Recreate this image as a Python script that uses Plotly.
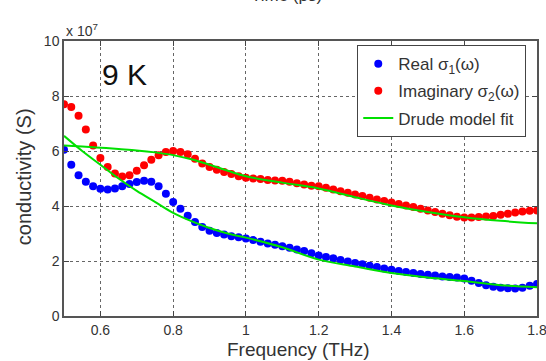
import numpy as np
import plotly.graph_objects as go

# Frequency grid of measured points (THz)
freq = [round(0.50 + 0.02 * i, 2) for i in range(66)]

# Real part sigma_1 (x 1e7 S)
sigma1 = [6.05, 5.50, 5.12, 4.88, 4.72, 4.63, 4.60, 4.64, 4.72, 4.80,
          4.87, 4.92, 4.88, 4.72, 4.45, 4.15, 3.90, 3.65, 3.42, 3.24,
          3.10, 3.02, 2.96, 2.90, 2.86, 2.82, 2.76, 2.70, 2.64, 2.59,
          2.54, 2.48, 2.42, 2.36, 2.28, 2.20, 2.15, 2.10, 2.04, 1.98,
          1.93, 1.88, 1.83, 1.78, 1.73, 1.68, 1.64, 1.60, 1.56, 1.53,
          1.50, 1.47, 1.44, 1.42, 1.40, 1.36, 1.28, 1.20, 1.12, 1.06,
          1.03, 1.01, 1.00, 1.03, 1.10, 1.16]

# Imaginary part sigma_2 (x 1e7 S)
sigma2 = [7.70, 7.60, 7.28, 6.78, 6.20, 5.75, 5.42, 5.18, 5.07, 5.12,
          5.28, 5.48, 5.68, 5.85, 5.96, 6.00, 5.96, 5.88, 5.72, 5.55,
          5.42, 5.32, 5.24, 5.16, 5.08, 5.03, 5.00, 4.98, 4.95, 4.93,
          4.92, 4.88, 4.83, 4.78, 4.74, 4.72, 4.66, 4.60, 4.54, 4.48,
          4.42, 4.36, 4.30, 4.24, 4.18, 4.13, 4.07, 4.02, 3.96, 3.90,
          3.84, 3.78, 3.72, 3.66, 3.61, 3.58, 3.58, 3.60, 3.62, 3.64,
          3.68, 3.72, 3.76, 3.80, 3.83, 3.84]

# Drude model fits
fit_freq = [0.50, 0.55, 0.60, 0.65, 0.70, 0.75, 0.80, 0.85, 0.90, 0.95,
            1.00, 1.10, 1.20, 1.30, 1.40, 1.50, 1.60, 1.70, 1.80]
fit1 = [6.55, 6.00, 5.50, 5.00, 4.55, 4.15, 3.75, 3.45, 3.20, 3.00,
        2.85, 2.50, 2.05, 1.80, 1.56, 1.40, 1.27, 1.12, 1.05]
fit2 = [6.20, 6.16, 6.12, 6.07, 6.02, 5.95, 5.85, 5.70, 5.50, 5.28,
        5.08, 4.85, 4.64, 4.32, 4.02, 3.78, 3.59, 3.46, 3.37]

xticks = [0.6, 0.8, 1.0, 1.2, 1.4, 1.6, 1.8]
xticklabels = ["0.6", "0.8", "1", "1.2", "1.4", "1.6", "1.8"]
yticks = [0, 2, 4, 6, 8, 10]

FONT = "Liberation Sans, Arial"

fig = go.Figure()
fig.add_trace(go.Scatter(x=freq, y=sigma1, mode="markers", name="Real σ<sub>1</sub>(ω)",
                         legendgroup="a", marker=dict(color="#0000ff", size=8)))
fig.add_trace(go.Scatter(x=freq, y=sigma2, mode="markers", name="Imaginary σ<sub>2</sub>(ω)",
                         legendgroup="b", marker=dict(color="#ff0000", size=8)))
fig.add_trace(go.Scatter(x=fit_freq, y=fit1, mode="lines", name="Drude model fit",
                         legendgroup="c", line=dict(color="#00e000", width=2, shape="spline")))
fig.add_trace(go.Scatter(x=fit_freq, y=fit2, mode="lines", name="Drude model fit", showlegend=False,
                         legendgroup="c", line=dict(color="#00e000", width=2, shape="spline")))

axis_common = dict(showline=True, linecolor="#555555", linewidth=1.5, mirror="ticks",
                   ticks="inside", ticklen=5, tickcolor="#444444",
                   showgrid=True, gridcolor="#666666", griddash="dot", gridwidth=1,
                   zeroline=False, automargin=False, ticklabeloverflow="allow",
                   tickfont=dict(family=FONT, size=14, color="#333333"))

fig.update_layout(
    width=546, height=361,
    margin=dict(l=64, r=9, t=41, b=45),
    paper_bgcolor="white", plot_bgcolor="white",
    font=dict(family=FONT, color="#333333"),
    xaxis=dict(range=[0.5, 1.8], tickvals=xticks, ticktext=xticklabels, **axis_common),
    yaxis=dict(range=[0, 10], tickvals=yticks, **axis_common),
    legend=dict(x=0.62, y=0.985, xanchor="left", yanchor="top",
                bgcolor="white", bordercolor="#444444", borderwidth=1,
                font=dict(family=FONT, size=17, color="#333333"), tracegroupgap=2,
                itemwidth=30),
    showlegend=True,
)

# axis titles
fig.add_annotation(x=0.496, y=0, xref="paper", yref="paper", text="Frequency (THz)",
                   showarrow=False, xanchor="center", yanchor="middle", yshift=-33,
                   font=dict(size=19, color="#333333"))
fig.add_annotation(x=0, y=0.505, xref="paper", yref="paper", text="conductivity (S)",
                   showarrow=False, xanchor="center", yanchor="middle", xshift=-40,
                   textangle=-90, font=dict(size=20, color="#333333"))

fig.add_annotation(x=0.6, y=8.8, xref="x", yref="y", text="9 K", showarrow=False,
                   xanchor="left", yanchor="middle", font=dict(size=30, color="#111111"))
fig.add_annotation(x=0.0, y=1.0, xref="paper", yref="paper", text="x 10<sup>7</sup>",
                   showarrow=False, xanchor="left", yanchor="bottom", yshift=0,
                   font=dict(size=14, color="#333333"))
fig.add_annotation(x=0.47, y=1.0, xref="paper", yref="paper", text="Time (ps)",
                   showarrow=False, xanchor="center", yanchor="bottom", yshift=34,
                   font=dict(size=17, color="#333333"))

fig.write_html("out.html")
